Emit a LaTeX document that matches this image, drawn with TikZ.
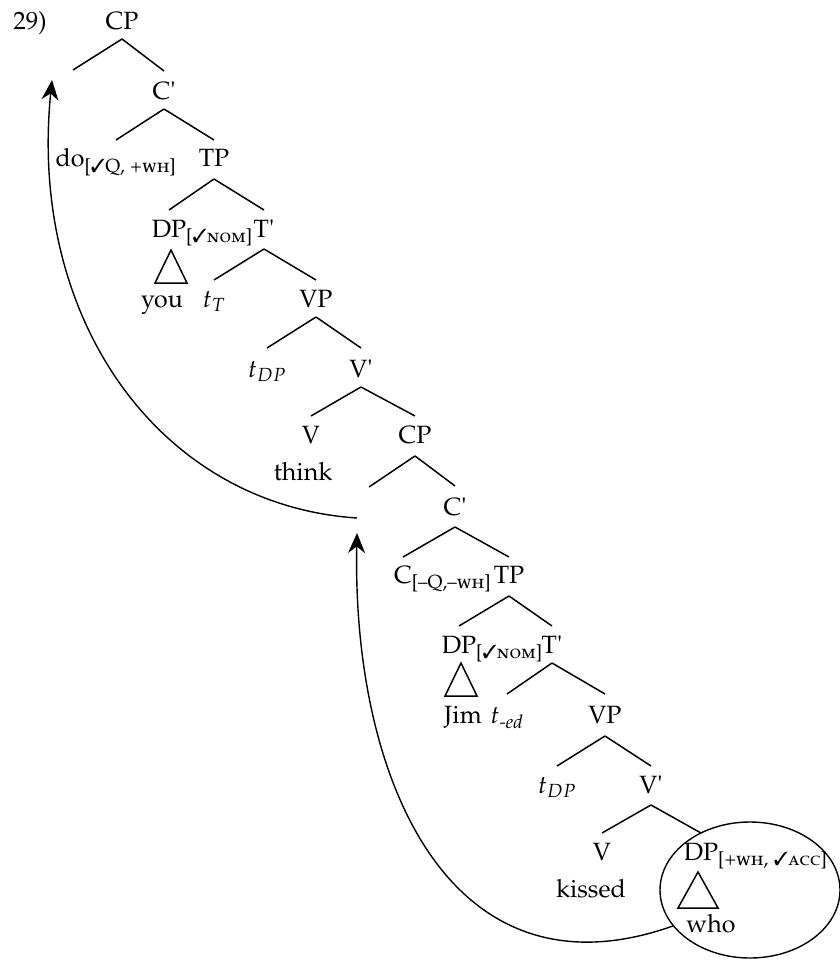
\documentclass[tikz,border=0pt]{standalone}
\usepackage[T1]{fontenc}
\usepackage[sc]{mathpazo}
\usepackage{pifont}
\usepackage{tikz}
\usetikzlibrary{arrows.meta,shapes.geometric}
\newcommand{\chk}{\ding{51}}
\newcommand{\brl}{\textquotesingle}
\begin{document}
\begin{tikzpicture}[x=1pt, y=-1pt, font=\fontsize{25}{30}\selectfont,
  cat/.style={anchor=base, inner sep=0pt},
  br/.style={line width=1.5pt},
  roof/.style={line width=1.5pt, line join=miter},
  mv/.style={-{Stealth[length=20pt, width=17pt]}, line width=1.4pt}
]
\useasboundingbox (0,0) rectangle (839,960);

%% matrix clause
\node[cat] (num)  at (30,30)   {29)};
\node[cat] (cp0)  at (122,30)  {CP};
\coordinate (spec0) at (73,100);
\node[cat] (cb0)  at (164,100) {C\brl};
\node[cat] (do)   at (116,167) {do\textsubscript{[\chk Q, +\textsc{wh}]}};
\node[cat] (tp0)  at (214,167) {TP};
\node[cat] (dp0)  at (169,237) {DP\rlap{\textsubscript{[\chk\textsc{nom}]}}};
\node[cat] (tb0)  at (264,237) {T\brl};
\node[cat] (you)  at (162,307) {you};
\node[cat] (tt)   at (214,307) {$t_T$};
\node[cat] (vp0)  at (316,307) {VP};
\node[cat] (tdp0) at (267,377) {$t_{DP}$};
\node[cat] (vb0)  at (361,377) {V\brl};
\node[cat] (v0)   at (311,443) {V};
\node[cat] (think) at (303,480) {think};

%% embedded clause
\node[cat] (cp1)  at (415,443) {CP};
\coordinate (spec1) at (369,517);
\node[cat] (cb1)  at (455,515) {C\brl};
\node[cat] (c1)   at (403,583) {C\rlap{\textsubscript{[--Q,--\textsc{wh}]}}};
\node[cat] (tp1)  at (509,583) {TP};
\node[cat] (dp1)  at (459,653) {DP\rlap{\textsubscript{[\chk\textsc{nom}]}}};
\node[cat] (tb1)  at (552,653) {T\brl};
\node[cat] (jim)  at (463,723) {Jim};
\node[cat] (ted)  at (507,723) {$t$\textsubscript{\textit{-ed}}};
\node[cat] (vp1)  at (605,723) {VP};
\node[cat] (tdp1) at (557,793) {$t_{DP}$};
\node[cat] (vb1)  at (651,793) {V\brl};
\node[cat] (v1)   at (602,860) {V};
\node[cat] (kissed) at (591,897) {kissed};
\node[cat] (dp2)  at (701,860) {DP\rlap{\textsubscript{[+\textsc{wh}, \chk\textsc{acc}]}}};
\node[cat] (who)  at (711,932) {who};

\node[draw, ellipse, line width=1.4pt, minimum width=180pt, minimum height=136pt] (wh) at (750,890) {};

%% branches
\draw[br] ([yshift=-9pt]cp0.base) -- ([yshift=30pt]spec0);
\draw[br] ([yshift=-9pt]cp0.base) -- ([yshift=29pt]cb0.base);
\draw[br] ([yshift=-9pt]cb0.base) -- ([yshift=27pt]do.base);
\draw[br] ([yshift=-9pt]cb0.base) -- ([yshift=27pt]tp0.base);
\draw[br] ([yshift=-12pt]tp0.base) -- ([yshift=27pt]dp0.base);
\draw[br] ([yshift=-12pt]tp0.base) -- ([yshift=27pt]tb0.base);
\draw[br] ([yshift=-12pt]tb0.base) -- ([yshift=27pt]tt.base);
\draw[br] ([yshift=-12pt]tb0.base) -- ([yshift=27pt]vp0.base);
\draw[br] ([yshift=-10pt]vp0.base) -- ([yshift=29pt]tdp0.base);
\draw[br] ([yshift=-10pt]vp0.base) -- ([yshift=29pt]vb0.base);
\draw[br] ([yshift=-10pt]vb0.base) -- ([yshift=27pt]v0.base);
\draw[br] ([yshift=-10pt]vb0.base) -- ([yshift=27pt]cp1.base);
\draw[br] ([yshift=-13pt]cp1.base) -- ([yshift=30pt]spec1);
\draw[br] ([yshift=-13pt]cp1.base) -- ([yshift=29pt]cb1.base);
\draw[br] ([yshift=-12pt]cb1.base) -- ([yshift=26pt]c1.base);
\draw[br] ([yshift=-12pt]cb1.base) -- ([yshift=26pt]tp1.base);
\draw[br] ([yshift=-13pt]tp1.base) -- ([yshift=27pt]dp1.base);
\draw[br] ([yshift=-13pt]tp1.base) -- ([yshift=27pt]tb1.base);
\draw[br] ([yshift=-10pt]tb1.base) -- ([yshift=29pt]ted.base);
\draw[br] ([yshift=-10pt]tb1.base) -- ([yshift=29pt]vp1.base);
\draw[br] ([yshift=-13pt]vp1.base) -- ([yshift=27pt]tdp1.base);
\draw[br] ([yshift=-13pt]vp1.base) -- ([yshift=27pt]vb1.base);
\draw[br] ([yshift=-12pt]vb1.base) -- ([yshift=27pt]v1.base);
\draw[br] ([yshift=-12pt]vb1.base) -- ([yshift=27pt]dp2.base);

%% roofs
\draw[roof] ([yshift=-13pt,xshift=2pt]dp0.base) -- ++(-16,33) -- ++(32,0) -- cycle;
\draw[roof] ([yshift=-10pt,xshift=2pt]dp1.base) -- ++(-16,33) -- ++(32,0) -- cycle;
\draw[roof] ([yshift=-12pt,xshift=-3pt]dp2.base) -- ++(-20,36) -- ++(40,0) -- cycle;

%% movement
\coordinate (lnd1) at (357,533);
\coordinate (dep1) at (357,518);
\coordinate (lnd0) at (52,80);
\draw[mv] (wh.205) .. controls (450,1005) and (352,780) .. (lnd1);
\draw[mv] (dep1) .. controls (160,505) and (28,320) .. (lnd0);
\end{tikzpicture}
\end{document}
